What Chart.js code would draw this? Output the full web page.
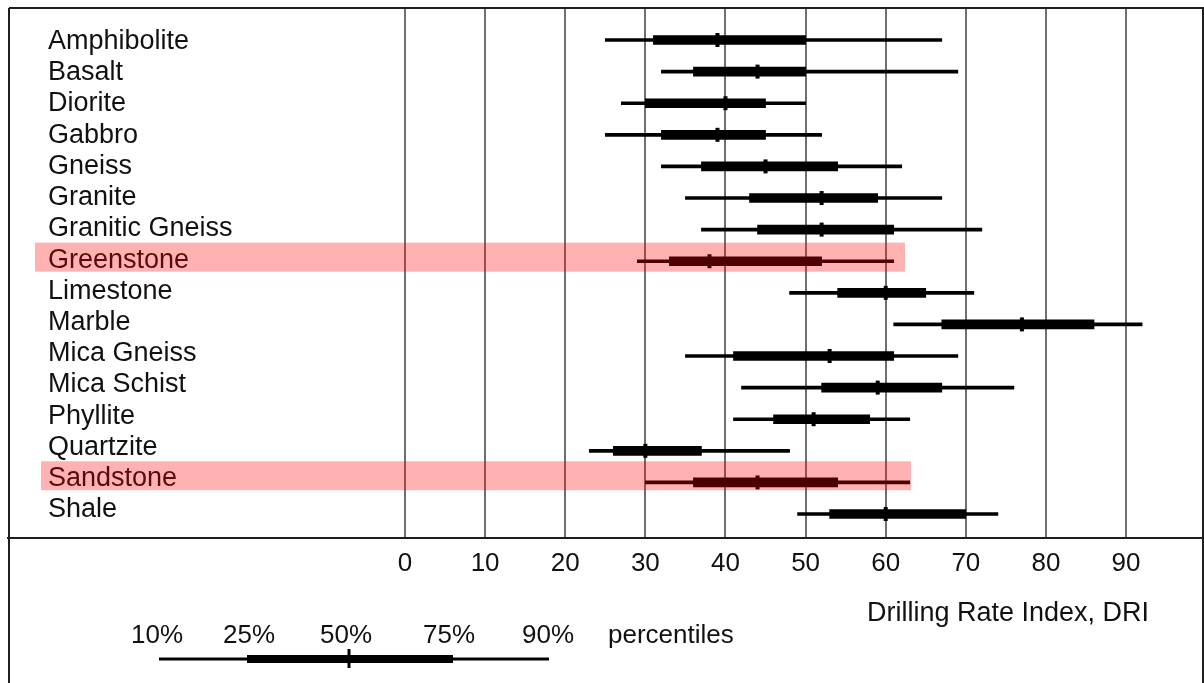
<!DOCTYPE html>
<html>
<head>
<meta charset="utf-8">
<title>Drilling Rate Index by rock type</title>
<script src="https://cdn.jsdelivr.net/npm/chart.js@4.4.1/dist/chart.umd.min.js"></script>
<style>
  html, body { margin: 0; padding: 0; background: #fff; }
  canvas { display: block; }
</style>
</head>
<body>
<canvas id="chart" width="1204" height="683"></canvas>
<script>
// Rock types, top to bottom
const rockTypes = [
  'Amphibolite', 'Basalt', 'Diorite', 'Gabbro', 'Gneiss', 'Granite',
  'Granitic Gneiss', 'Greenstone', 'Limestone', 'Marble', 'Mica Gneiss',
  'Mica Schist', 'Phyllite', 'Quartzite', 'Sandstone', 'Shale'
];

// DRI percentiles per rock type
const p10 = [25, 32, 27, 25, 32, 35, 37, 29, 48, 61, 35, 42, 41, 23, 30, 49];
const p25 = [31, 36, 30, 32, 37, 43, 44, 33, 54, 67, 41, 52, 46, 26, 36, 53];
const p50 = [39, 44, 40, 39, 45, 52, 52, 38, 60, 77, 53, 59, 51, 30, 44, 60];
const p75 = [50, 50, 45, 45, 54, 59, 61, 52, 65, 86, 61, 67, 58, 37, 54, 70];
const p90 = [67, 69, 50, 52, 62, 67, 72, 61, 71, 92, 69, 76, 63, 48, 63, 74];

const xTicks = [0, 10, 20, 30, 40, 50, 60, 70, 80, 90];
const highlighted = ['Greenstone', 'Sandstone'];
const legendLabels = ['10%', '25%', '50%', '75%', '90%'];
const axisTitle = 'Drilling Rate Index, DRI';

const FONT = "'Liberation Sans', Arial, sans-serif";

// keep the axes from reserving room, so the plot fills the frame
function noRoom(scale) {
  if (scale.isHorizontal()) {
    scale.height = 145;
  } else {
    scale.width = 0;
  }
  scale.paddingTop = 0;
  scale.paddingBottom = 0;
  scale.paddingLeft = 0;
  scale.paddingRight = 0;
}

// frame, key and highlight bands
const framePlugin = {
  id: 'frame',
  afterDraw(chart) {
    const ctx = chart.ctx;
    const area = chart.chartArea;
    const W = chart.width, H = chart.height;
    ctx.save();

    // outer frame + axis line
    ctx.strokeStyle = '#1e1e1e';
    ctx.lineWidth = 2;
    ctx.beginPath();
    ctx.moveTo(area.left - 1, area.top);
    ctx.lineTo(W, area.top);
    ctx.moveTo(area.left - 1, area.top);
    ctx.lineTo(area.left - 1, H);
    ctx.moveTo(area.right, area.top);
    ctx.lineTo(area.right, H);
    ctx.moveTo(area.left - 3, area.bottom);
    ctx.lineTo(W, area.bottom);
    ctx.stroke();

    // axis title
    ctx.fillStyle = '#111';
    ctx.font = '27px ' + FONT;
    ctx.textAlign = 'center';
    ctx.textBaseline = 'middle';
    ctx.fillText(axisTitle, 1008, 614);

    // percentile key
    ctx.font = '26px ' + FONT;
    const keyX = [157, 249, 346, 449, 548];
    legendLabels.forEach((t, i) => ctx.fillText(t, keyX[i], 636));
    ctx.textAlign = 'left';
    ctx.fillText('percentiles', 608, 636);

    ctx.strokeStyle = '#000';
    ctx.lineCap = 'butt';
    ctx.lineWidth = 3;
    ctx.beginPath();
    ctx.moveTo(159, 659);
    ctx.lineTo(549, 659);
    ctx.stroke();
    ctx.lineWidth = 8;
    ctx.beginPath();
    ctx.moveTo(247, 659);
    ctx.lineTo(453, 659);
    ctx.stroke();
    ctx.lineWidth = 3;
    ctx.beginPath();
    ctx.moveTo(349, 649);
    ctx.lineTo(349, 668);
    ctx.stroke();

    // highlight bands over the rows
    const yl = chart.scales.yl;
    const spans = [[35, 905], [41, 911]];
    ctx.fillStyle = 'rgba(255, 0, 0, 0.3)';
    highlighted.forEach((name, k) => {
      const yc = yl.getPixelForValue(rockTypes.indexOf(name));
      ctx.fillRect(spans[k][0], yc - 14.5, spans[k][1] - spans[k][0], 29);
    });

    ctx.restore();
  }
};

const ctx = document.getElementById('chart').getContext('2d');

new Chart(ctx, {
  type: 'bar',
  data: {
    datasets: [{
      label: '10-90%',
      data: rockTypes.map((_, i) => ({ y: i, x: [p10[i], p90[i]] })),
      backgroundColor: '#000',
      barThickness: 3,
      grouped: false,
      order: 3
    }, {
      label: '25-75%',
      data: rockTypes.map((_, i) => ({ y: i, x: [p25[i], p75[i]] })),
      backgroundColor: '#000',
      barThickness: 9,
      grouped: false,
      order: 2
    }, {
      type: 'scatter',
      label: 'Median',
      data: rockTypes.map((_, i) => ({ y: i, x: p50[i] })),
      pointStyle: 'line',
      rotation: 90,
      radius: 7,
      borderWidth: 4,
      borderColor: '#000',
      backgroundColor: '#000',
      order: 1
    }]
  },
  options: {
    indexAxis: 'y',
    responsive: false,
    animation: false,
    layout: { autoPadding: false, padding: { left: 10, top: 8, right: 1, bottom: 0 } },
    plugins: {
      legend: { display: false },
      tooltip: { enabled: false }
    },
    scales: {
      x: {
        type: 'linear',
        position: 'bottom',
        min: -49.3,
        max: 99.6,
        bounds: 'data',
        offset: false,
        afterBuildTicks: (scale) => { scale.ticks = xTicks.map(v => ({ value: v })); },
        afterFit: noRoom,
        grid: { color: '#6f6f6f', lineWidth: 2, drawTicks: false, offset: false },
        border: { display: false },
        ticks: {
          autoSkip: false,
          maxRotation: 0,
          padding: 10,
          color: '#111',
          font: { family: FONT, size: 26 },
          callback: (v) => String(v)
        }
      },
      y: {
        type: 'linear',
        position: 'left',
        reverse: true,
        min: -1.013,
        max: 15.759,
        bounds: 'data',
        offset: false,
        display: false,
        afterFit: noRoom
      },
      yl: {
        type: 'linear',
        position: 'left',
        reverse: true,
        min: -0.977,
        max: 15.994,
        bounds: 'data',
        offset: false,
        afterBuildTicks: (scale) => { scale.ticks = rockTypes.map((_, i) => ({ value: i })); },
        afterFit: noRoom,
        grid: { display: false, offset: false },
        border: { display: false },
        ticks: {
          autoSkip: false,
          mirror: true,
          padding: 38,
          labelOffset: 3,
          color: '#111',
          font: { family: FONT, size: 27 },
          callback: (v) => rockTypes[v]
        }
      }
    }
  },
  plugins: [framePlugin]
});
</script>
</body>
</html>
